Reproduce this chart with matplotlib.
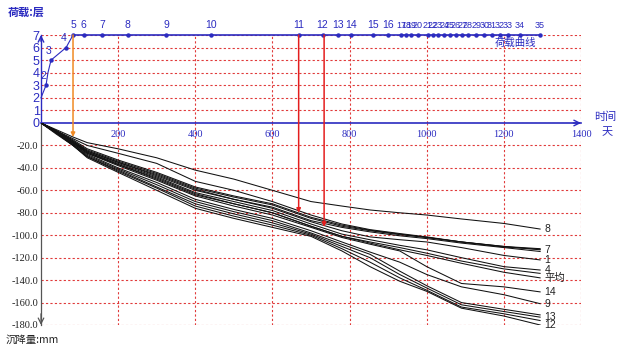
import matplotlib
matplotlib.use("Agg")
import matplotlib.pyplot as plt
import numpy as np

# ---------------- data ----------------
days = [0, 40, 83, 120, 200, 300, 400, 500, 600, 700, 780, 853, 930, 1000, 1090, 1200, 1294]
settle = {
    "8":  [0, -6, -12.5, -17.5, -23, -31, -42, -50, -60, -70, -74, -77.5, -80, -82, -85.5, -89.5, -94.5],
    "7":  [0, -7, -14, -20, -27, -36, -52, -60, -70, -82, -90, -95, -98.5, -101.5, -106, -110, -113],
    "6":  [0, -7, -15, -23, -33, -44, -57, -65, -72, -84, -91, -95.5, -99, -102, -106, -110.5, -112.5],
    "2":  [0, -7, -16, -24, -34, -45, -58, -66, -73, -85, -92, -96, -99.5, -102, -106, -110, -112],
    "3":  [0, -8, -17, -25, -35, -47, -60, -68, -75, -87, -93, -97, -100.5, -103, -107, -111, -114.5],
    "1":  [0, -7, -16, -25, -35, -46, -59, -68, -76, -88, -96, -101.5, -104, -106, -111, -118, -122],
    "4":  [0, -8, -17, -26, -36, -48, -62, -70, -78, -90, -99, -104, -109, -113, -120, -128, -131],
    "5":  [0, -8, -18, -27, -37, -50, -64, -72, -80, -92, -101, -106, -111, -116, -123, -130, -134],
    "平均": [0, -8, -17.5, -26, -37, -49, -63, -72, -80, -92, -101, -107, -113, -118, -125, -133, -138],
    "14": [0, -8, -18, -27, -38, -51, -65, -74, -82, -93, -102, -108, -114, -128, -143, -146, -150.5],
    "9":  [0, -9, -19, -28, -40, -53, -68, -77, -85, -96, -106, -115, -124, -135, -146, -153, -161],
    "10": [0, -9, -19, -29, -41, -55, -70, -79, -87, -98, -108, -117, -132, -145, -160, -166, -171],
    "13": [0, -9, -20, -30, -42, -57, -72, -81, -89, -99, -110, -120, -135, -147, -162, -168, -173],
    "11": [0, -9, -20, -30, -43, -58, -74, -83, -91, -100, -112, -124, -138, -149, -164, -170, -176],
    "12": [0, -10, -20, -31, -44, -60, -76, -85, -93, -101, -114, -128, -141, -150, -165, -172, -180],
}
shown_labels = ["8", "7", "1", "4", "平均", "14", "9", "13", "12"]

# load curve (early part) and floor completion days
load_days = [0, 13, 18, 26, 65, 83]
load_vals = [2, 3, 4, 5, 6, 7]
floor_nums = list(range(2, 36))
floor_days = [13, 26, 65, 83, 111, 158, 225, 324, 440, 668, 730, 769, 803, 862, 899,
              933, 946, 959, 977, 1003, 1016, 1029, 1045, 1060, 1076, 1092, 1107,
              1128, 1149, 1169, 1190, 1211, 1242, 1294]
floor_vals = [3, 5, 6, 7] + [7] * 30

x_ticks = [200, 400, 600, 800, 1000, 1200, 1400]
y_ticks = [-180, -160, -140, -120, -100, -80, -60, -40, -20]
load_ticks = [0, 1, 2, 3, 4, 5, 6, 7]

arrow_days = [83, 668, 734]
arrow_vals = [-12.5, -80, -92.6]
arrow_cols = ["#f08a24", "#e41e1e", "#e41e1e"]

# ---------------- style ----------------
BLUE = "#2b2bc0"
RED = "#e03a3a"
plt.rcParams['font.family'] = ['Liberation Sans', 'Noto Sans CJK SC', 'DejaVu Sans']

fig = plt.figure(figsize=(6.22, 3.52), dpi=100)
L = 41 / 622
W = 540 / 622
ax_top = fig.add_axes([L, 1 - 123 / 352, W, 88 / 352])
ax_bot = fig.add_axes([L, 1 - 325 / 352, W, 202 / 352])

grid_kw = dict(color=RED, linestyle=(0, (2, 2)), linewidth=0.8)

for ax in (ax_top, ax_bot):
    ax.set_xlim(0, 1400)
    ax.set_facecolor("none")
    ax.set_axisbelow(True)
    ax.set_xticks(x_ticks)
    ax.tick_params(axis='both', length=0)
    ax.set_xticklabels([])
    ax.grid(True, **grid_kw)
    ax.spines['right'].set_visible(False)

# top (load) axes
ax_top.set_ylim(0, 7)
ax_top.set_yticks(load_ticks)
ax_top.set_yticklabels([str(v) for v in load_ticks], color=BLUE,
                       fontsize=9, family='Liberation Sans')
ax_top.tick_params(axis='y', pad=1)
ax_top.spines['top'].set_visible(False)
ax_top.spines['bottom'].set_visible(False)
ax_top.spines['left'].set_color(BLUE)
ax_top.spines['left'].set_linewidth(1.0)

# bottom (settlement) axes
ax_bot.set_ylim(-180, 0)
ax_bot.set_yticks(y_ticks)
ax_bot.set_yticklabels([f"{v:.1f}" for v in y_ticks], fontsize=7.5,
                       family='Liberation Serif', color='#222222')
ax_bot.tick_params(axis='y', pad=2)
ax_bot.spines['bottom'].set_visible(False)
ax_bot.spines['top'].set_color(BLUE)
ax_bot.spines['top'].set_linewidth(1.2)
ax_bot.spines['left'].set_color('#555555')
ax_bot.spines['left'].set_linewidth(0.9)

for v in x_ticks:
    ax_bot.annotate(str(v), xy=(v, 0), xytext=(0, -5), textcoords='offset points',
                    ha='center', va='top', fontsize=7.5, color=BLUE,
                    family='Liberation Serif')

# axis arrows
ax_bot.annotate('', xy=(1400, 0), xytext=(1380, 0), annotation_clip=False,
                arrowprops=dict(arrowstyle='->', color=BLUE, lw=1.0, shrinkA=0, shrinkB=0))
ax_bot.annotate('', xy=(0, -180), xytext=(0, -170), annotation_clip=False,
                arrowprops=dict(arrowstyle='->', color='#555555', lw=0.9, shrinkA=0, shrinkB=0))
ax_top.annotate('', xy=(0, 7), xytext=(0, 6.5), annotation_clip=False,
                arrowprops=dict(arrowstyle='->', color=BLUE, lw=1.0, shrinkA=0, shrinkB=0))

# load curve
ax_top.plot(load_days, load_vals, color=BLUE, lw=0.8, clip_on=False, zorder=3)
ax_top.plot(floor_days[3:], floor_vals[3:], color=BLUE, lw=1.2, clip_on=False, zorder=3)
ax_top.plot(floor_days, floor_vals, linestyle='none', marker='o', ms=2.2,
            color=BLUE, clip_on=False, zorder=4)
for d, v, n in zip(floor_days, floor_vals, floor_nums):
    fs = 7.5 if n < 17 else 6.5
    if v >= 7:
        ax_top.annotate(str(n), xy=(d, v), xytext=(0, 3.5), textcoords='offset points',
                        ha='center', va='bottom', fontsize=fs, color=BLUE,
                        annotation_clip=False)
    else:
        ax_top.annotate(str(n), xy=(d, v), xytext=(-2, 3), textcoords='offset points',
                        ha='center', va='bottom', fontsize=fs, color=BLUE,
                        annotation_clip=False)

ax_top.text(1230, 6.8, "荷载曲线", color=BLUE, fontsize=7.5, ha='center', va='top',
            family=['Noto Sans CJK SC', 'DejaVu Sans'])

# settlement curves
for name, vals in settle.items():
    ax_bot.plot(days, vals, color='#111111', lw=0.75, zorder=3)
for name in shown_labels:
    ax_bot.annotate(name, xy=(days[-1], settle[name][-1]), xytext=(3, 0),
                    textcoords='offset points', ha='left', va='center',
                    fontsize=7.5, color='#222222', annotation_clip=False,
                    family=['Liberation Sans', 'Noto Sans CJK SC'])

# vertical arrows from load line to curves
for d, v, c in zip(arrow_days, arrow_vals, arrow_cols):
    ax_bot.annotate('', xy=(d, v), xycoords='data', xytext=(d, 7),
                    textcoords=ax_top.transData, annotation_clip=False,
                    arrowprops=dict(arrowstyle='-|>', color=c, lw=1.1,
                                    mutation_scale=6, shrinkA=0, shrinkB=0),
                    zorder=5)

# axis titles
cjk = ['Noto Sans CJK SC', 'DejaVu Sans']
fig.text(8 / 622, 1 - 12 / 352, "荷载:层", color=BLUE, fontsize=8, fontweight='bold',
         ha='left', va='center', family=cjk)
fig.text(6 / 622, 1 - 340 / 352, "沉降量:mm", color='#222222', fontsize=7.5,
         ha='left', va='center', family=cjk)
fig.text(605 / 622, 1 - 117 / 352, "时间", color=BLUE, fontsize=8, ha='center',
         va='center', family=cjk)
fig.text(607 / 622, 1 - 132 / 352, "天", color=BLUE, fontsize=8, ha='center',
         va='center', family=cjk)

fig.savefig("out.png", dpi=100)
